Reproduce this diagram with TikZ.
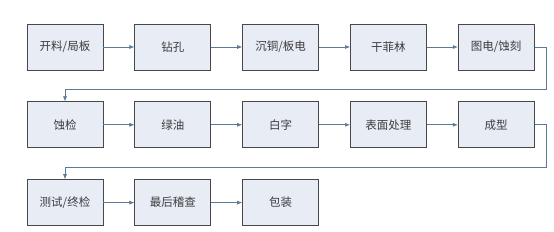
\documentclass[tikz,border=0pt]{standalone}
\usepackage{fontspec}
\newfontfamily\cjk{Noto Sans CJK SC}
\usepackage{xcolor}
\usetikzlibrary{arrows.meta,calc,positioning}
\definecolor{boxfill}{RGB}{231,236,245}
\definecolor{boxline}{RGB}{72,72,76}
\definecolor{flowblue}{RGB}{92,122,150}
\definecolor{textgrey}{RGB}{60,60,60}
\tikzset{
  stepbox/.style={draw=boxline,thick,fill=boxfill,minimum width=76pt,
    minimum height=46pt,inner sep=2pt,text=textgrey,
    font=\cjk\fontsize{11.5}{13}\selectfont},
  flow/.style={-{Latex[length=5pt,width=4pt]},semithick,draw=flowblue}
}
\begin{document}
\begin{tikzpicture}[node distance=31pt and 31pt]
  \useasboundingbox[fill=white] (0,0) rectangle (554pt,-232pt);
  % first row
  \node[stepbox] (kailiao) at (65pt,-47pt) {开料/局板};
  \node[stepbox,right=of kailiao] (zuankong) {钻孔};
  \node[stepbox,right=of zuankong] (chentong) {沉铜/板电};
  \node[stepbox,right=of chentong] (ganfeilin) {干菲林};
  \node[stepbox,right=of ganfeilin] (tudian) {图电/蚀刻};
  % second row
  \node[stepbox,below=of kailiao] (shijian) {蚀检};
  \node[stepbox,right=of shijian] (lvyou) {绿油};
  \node[stepbox,right=of lvyou] (baizi) {白字};
  \node[stepbox,right=of baizi] (biaomian) {表面处理};
  \node[stepbox,right=of biaomian] (chengxing) {成型};
  % third row
  \node[stepbox,below=of shijian] (ceshi) {测试/终检};
  \node[stepbox,right=of ceshi] (zuihou) {最后稽查};
  \node[stepbox,right=of zuihou] (baozhuang) {包装};
  \draw[flow] (kailiao) -- (zuankong);
  \draw[flow] (zuankong) -- (chentong);
  \draw[flow] (chentong) -- (ganfeilin);
  \draw[flow] (ganfeilin) -- (tudian);
  \draw[flow] (tudian.east) -- ++(12pt,0) |- ([yshift=12pt]shijian.north) -- (shijian.north);
  \draw[flow] (shijian) -- (lvyou);
  \draw[flow] (lvyou) -- (baizi);
  \draw[flow] (baizi) -- (biaomian);
  \draw[flow] (biaomian) -- (chengxing);
  \draw[flow] (chengxing.east) -- ++(12pt,0) |- ([yshift=12pt]ceshi.north) -- (ceshi.north);
  \draw[flow] (ceshi) -- (zuihou);
  \draw[flow] (zuihou) -- (baozhuang);
\end{tikzpicture}
\end{document}
